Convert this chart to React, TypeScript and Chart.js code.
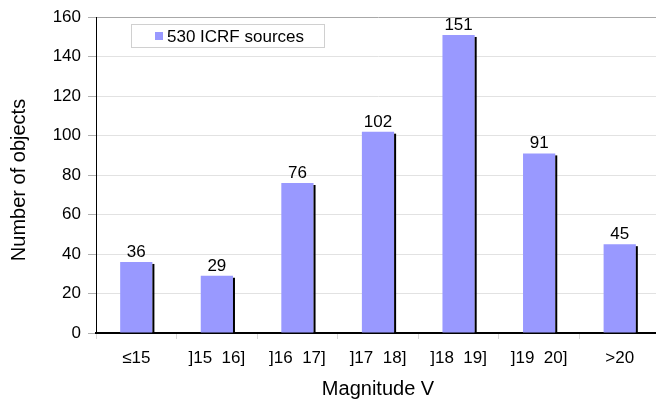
import React, { useEffect, useRef } from "react";
import { Chart, registerables } from "chart.js";

Chart.register(...registerables);

const categories = ["≤15", "]15  16]", "]16  17]", "]17  18]", "]18  19]", "]19  20]", ">20"];
const counts = [36, 29, 76, 102, 151, 91, 45];
const seriesLabel = "530 ICRF sources";
const yTitle = "Number of objects";
const xTitle = "Magnitude V";

const FONT = '"Liberation Sans", Arial, sans-serif';
const BAR = "#9999FF";

const decorPlugin = {
  id: "decor",
  afterDatasetsDraw(chart: any) {
    const ctx = chart.ctx;
    const meta = chart.getDatasetMeta(0);
    ctx.save();
    meta.data.forEach((bar: any, i: number) => {
      const { x, y, width, base } = bar.getProps(["x", "y", "width", "base"], true);
      ctx.fillStyle = "#000";
      ctx.fillRect(x + width / 2, y + 2, 2, base - y - 2);
      ctx.fillStyle = "#000";
      ctx.font = `17px ${FONT}`;
      ctx.textAlign = "center";
      ctx.textBaseline = "alphabetic";
      ctx.fillText(String(counts[i]), x, y - 5);
    });
    ctx.restore();
  },
  afterDraw(chart: any) {
    const ctx = chart.ctx;
    ctx.save();
    // legend box
    ctx.strokeStyle = "#d0d0d0";
    ctx.lineWidth = 1;
    ctx.strokeRect(131.5, 24.5, 193, 23);
    ctx.fillStyle = BAR;
    ctx.fillRect(155, 32, 8, 8);
    ctx.fillStyle = "#000";
    ctx.font = `17px ${FONT}`;
    ctx.textAlign = "left";
    ctx.textBaseline = "alphabetic";
    ctx.fillText(seriesLabel, 167, 42);
    // y title
    ctx.translate(19, 180);
    ctx.rotate(-Math.PI / 2);
    ctx.font = `20px ${FONT}`;
    ctx.textAlign = "center";
    ctx.textBaseline = "middle";
    ctx.fillText(yTitle, 0, 0);
    ctx.restore();
  },
};

export default function App() {
  const ref = useRef<HTMLCanvasElement | null>(null);
  useEffect(() => {
    if (!ref.current) return;
    const chart = new Chart(ref.current, {
      type: "bar",
      data: {
        labels: categories,
        datasets: [
          {
            label: seriesLabel,
            data: counts,
            backgroundColor: BAR,
            borderWidth: 0,
            barPercentage: 0.4,
            categoryPercentage: 1,
          },
        ],
      },
      options: {
        responsive: false,
        animation: false,
        layout: { padding: { top: 16, right: 4, left: 0, bottom: 0 } },
        plugins: {
          legend: { display: false },
          tooltip: { enabled: false },
        },
        scales: {
          x: {
            type: "category",
            grid: {
              display: true,
              drawOnChartArea: false,
              drawTicks: true,
              tickLength: 6,
              tickColor: "#d8d8d8",
              offset: true,
            },
            border: { display: true, color: "#000", width: 2 },
            ticks: {
              color: "#000",
              font: { family: FONT, size: 17 },
              padding: 9,
              maxRotation: 0,
              autoSkip: false,
            },
            title: {
              display: true,
              text: xTitle,
              color: "#000",
              font: { family: FONT, size: 20 },
              padding: { top: 0, bottom: 0 },
            },
            afterFit(scale: any) {
              scale.height = 68;
            },
          },
          y: {
            min: 0,
            max: 160,
            grid: {
              color: (c: any) => (c.tick && c.tick.value === 160 ? "#a8a8a8" : "#e2e2e2"),
              tickColor: "#b0b0b0",
              tickLength: 8,
              drawTicks: true,
            },
            border: { display: true, color: "#000", width: 1 },
            ticks: {
              stepSize: 20,
              color: "#000",
              font: { family: FONT, size: 17 },
              padding: 7,
            },
            afterFit(scale: any) {
              scale.width = 96;
            },
          },
        },
      },
      plugins: [decorPlugin],
    } as any);
    return () => chart.destroy();
  }, []);
  return (
    <div
      style={{
        position: "fixed",
        left: 0,
        top: 0,
        width: 656,
        height: 401,
        overflow: "hidden",
        background: "#fff",
      }}
    >
      <canvas ref={ref} width={664} height={401} style={{ display: "block" }} />
    </div>
  );
}
